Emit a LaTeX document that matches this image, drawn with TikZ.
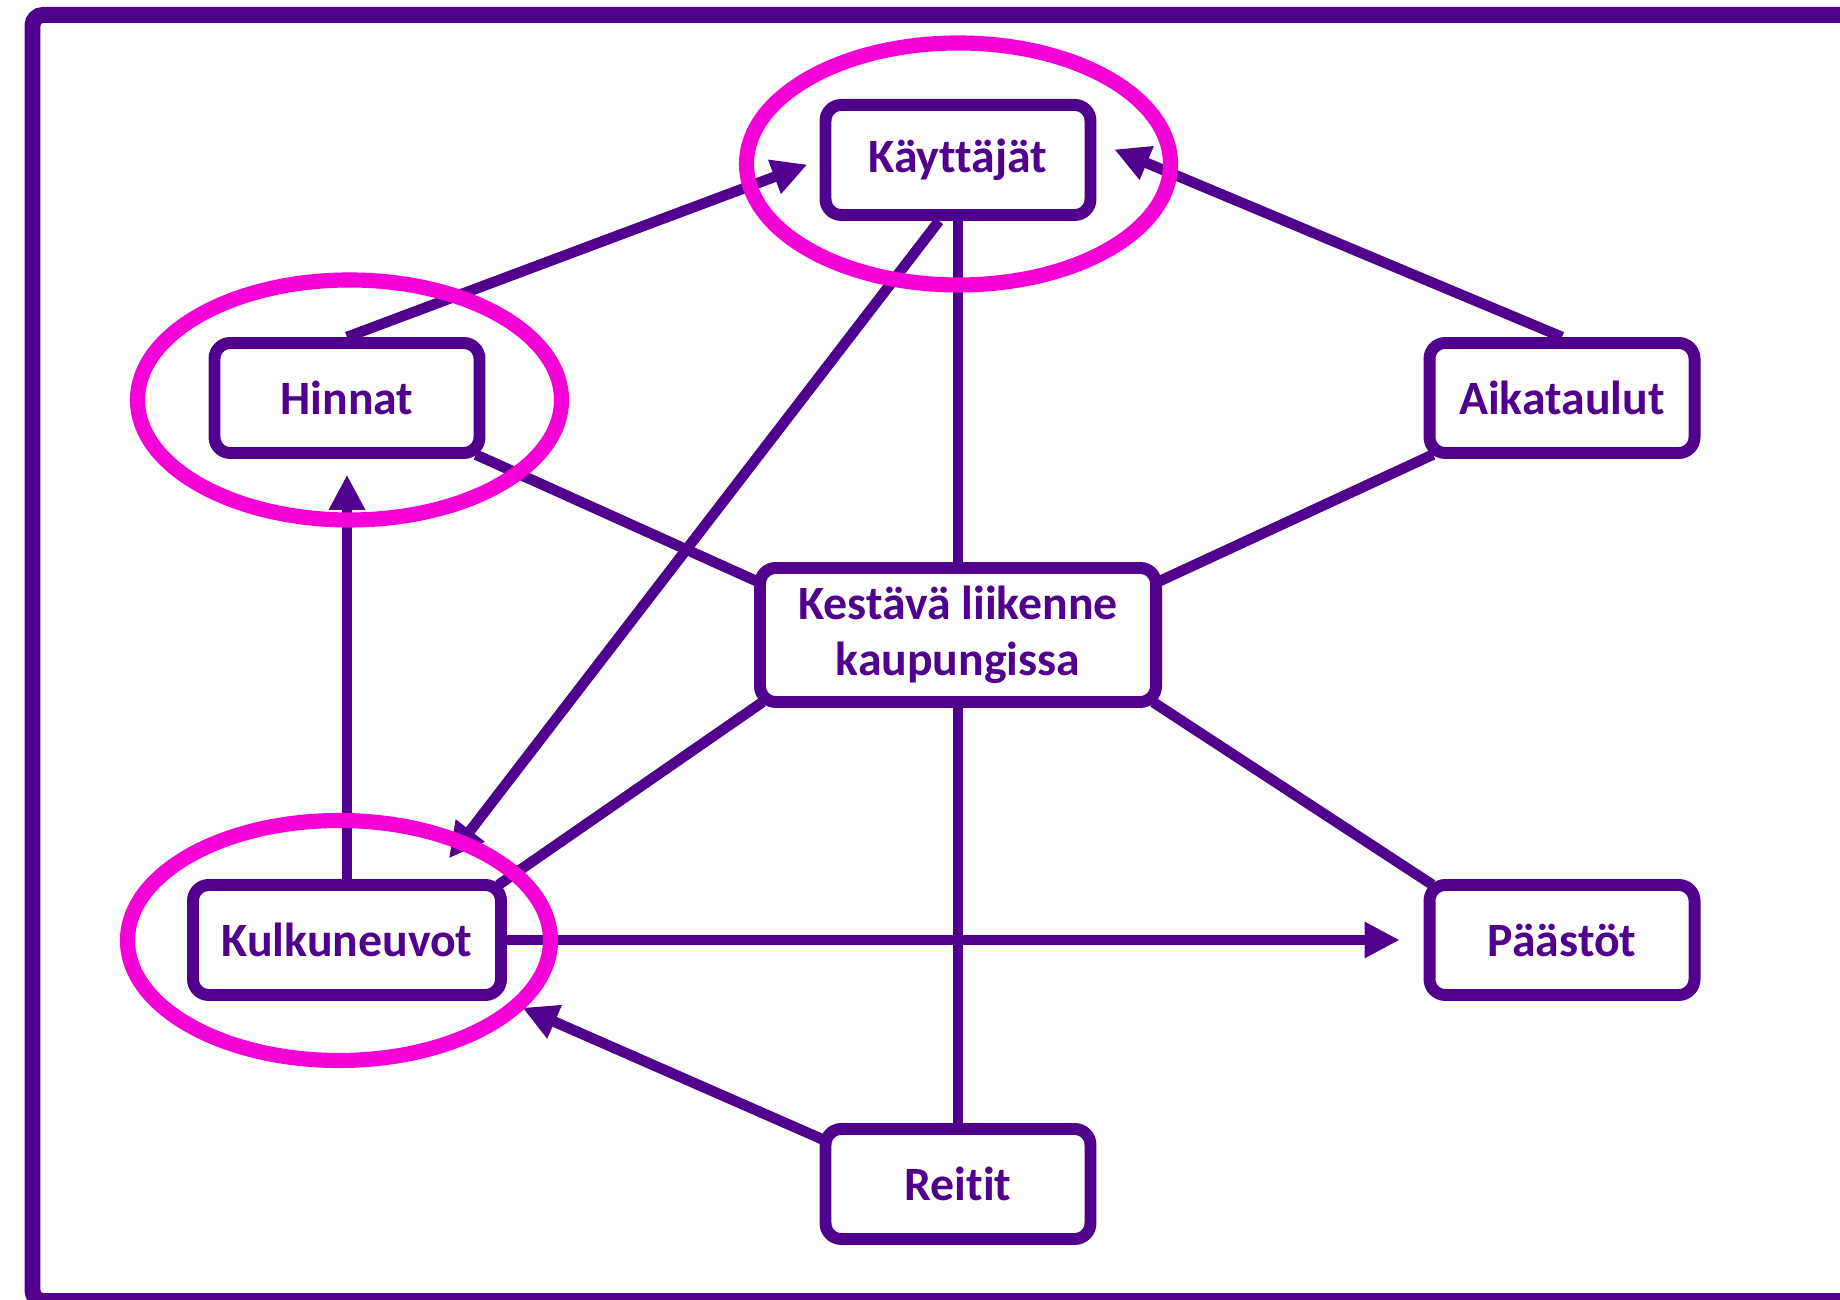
\documentclass[tikz,border=0pt]{standalone}
\usepackage{fontspec}
\setmainfont{Carlito}[Ligatures={NoCommon}]
\usetikzlibrary{arrows.meta,backgrounds}
\definecolor{violetline}{RGB}{80,0,140}
\definecolor{ringpink}{RGB}{245,0,215}
\tikzset{
  topic/.style={draw=violetline, line width=3.4pt, rounded corners=4.5pt, fill=white,
    text=violetline, font=\fontsize{13.6}{16}\selectfont\bfseries,
    minimum width=2.65cm, minimum height=1.1cm, inner sep=0pt, align=center},
  link/.style={draw=violetline, line width=3pt},
  arr/.style={link, -{Triangle[length=10pt,width=9.7pt]}},
  ring/.style={draw=ringpink, line width=4.3pt},
}
\begin{document}
\begin{tikzpicture}
\useasboundingbox (0,0) rectangle (18.4,13);
\draw[violetline, line width=4.55pt, rounded corners=3pt] (18.8,12.85) -- (0.325,12.85) -- (0.325,-0.01) -- (18.8,-0.01);
\node[topic] (kayt) at (9.58,11.40) {Käyttäjät};
\node[topic] (hinnat) at (3.47,9.02) {Hinnat};
\node[topic] (aika) at (15.62,9.02) {Aikataulut};
\node[topic, minimum width=3.96cm, minimum height=1.34cm] (kest) at (9.58,6.65) {Kestävä liikenne\\kaupungissa};
\node[topic, minimum width=3.08cm] (kulku) at (3.47,3.60) {Kulkuneuvot};
\node[topic] (paas) at (15.62,3.60) {Päästöt};
\node[topic] (reitit) at (9.58,1.16) {Reitit};
\begin{scope}[on background layer]
\draw[link] (kayt.south) -- (kest.north);
\draw[link] (kest.south) -- (reitit.north);
\draw[link, shorten <=-3pt, shorten >=-3pt] (hinnat.south east) -- ([yshift=-1.8mm]kest.north west);
\draw[link, shorten <=-3pt, shorten >=-3pt] (aika.south west) -- ([yshift=-1.8mm]kest.north east);
\draw[link, shorten <=-3pt, shorten >=-3pt] (kest.south west) -- (kulku.north east);
\draw[link, shorten <=-3pt, shorten >=-3pt] (kest.south east) -- (paas.north west);
\draw[arr, shorten >=3.7pt] (hinnat.north) -- (kayt.west);
\draw[arr, shorten >=5.5pt] (aika.north) -- ([yshift=1.8mm]kayt.east);
\draw[arr, shorten >=7.4pt] ([xshift=-1.9mm]kayt.south) -- ([xshift=8.6mm]kulku.north);
\draw[arr, shorten >=4.5pt] (kulku.north) -- (hinnat.south);
\draw[arr, shorten >=6.8pt] (kulku.east) -- (paas.west);
\draw[arr, shorten <=-3pt, shorten >=4.8pt] ([yshift=-1.5mm]reitit.north west) -- (kulku.south east);
\end{scope}
\draw[ring] (9.585,11.36) ellipse [x radius=2.12, y radius=1.21];
\draw[ring] (3.495,9.0) ellipse [x radius=2.12, y radius=1.20];
\draw[ring] (3.39,3.595) ellipse [x radius=2.115, y radius=1.20];
\end{tikzpicture}
\end{document}
